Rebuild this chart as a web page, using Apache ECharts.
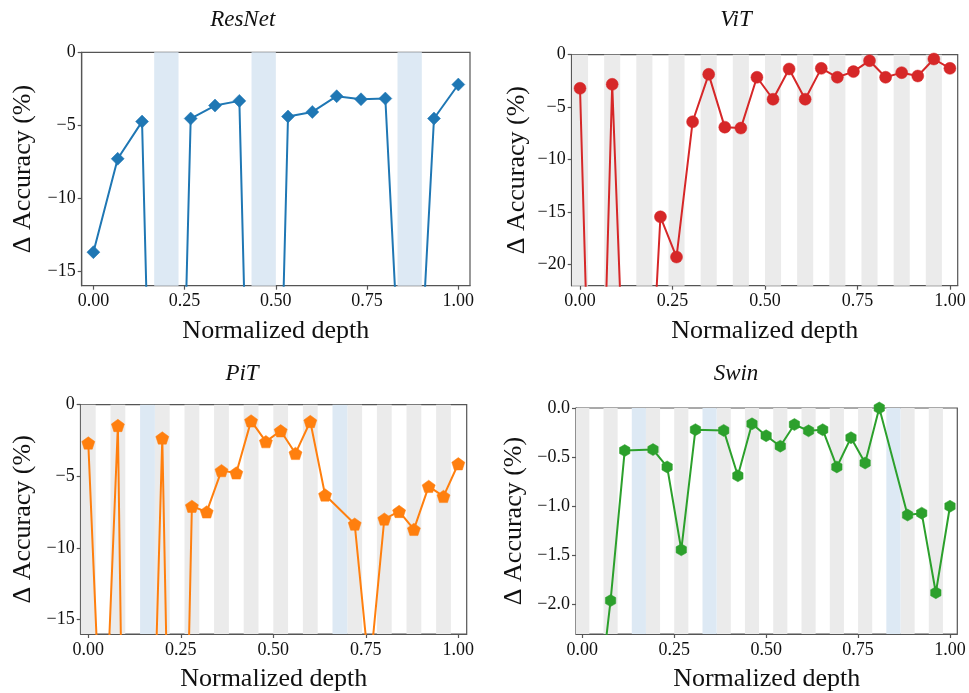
<!DOCTYPE html>
<html>
<head>
<meta charset="utf-8">
<script src="https://cdn.jsdelivr.net/npm/echarts@6/dist/echarts.min.js"></script>
<style>html,body{margin:0;padding:0;background:#fff}#c{width:969px;height:693px}</style>
</head>
<body>
<div id="c"></div>
<script>
// ---------------- data ----------------
const panelTitles = ['ResNet', 'ViT', 'PiT', 'Swin'];
const xTickValues = [0, 0.25, 0.5, 0.75, 1.0];
const yTicksInt16 = [0, -5, -10, -15];
const yTicksInt22 = [0, -5, -10, -15, -20];
const yTicksSwin = [0, -0.5, -1.0, -1.5, -2.0];

// Δ accuracy per layer (index along depth); null = layer not measured
const resnetValues = [-13.7, -7.3, -4.75, -70, -4.54, -3.65, -3.33, -70, -4.4, -4.09, -3.01, -3.22, -3.17, -36, -4.54, -2.21];
const resnetBlue = [3, 7, 13];
const resnetGray = [];

const vitValues = [-3.2, -57, -2.82, -43, -44, -15.44, -19.27, -6.39, -1.87, -6.9, -6.99, -2.15, -4.24, -1.36, -4.24, -1.30, -2.15, -1.61, -0.57, -2.15, -1.71, -2.03, -0.41, -1.30];
const vitBlue = [];
const vitGray = [0, 2, 4, 6, 8, 10, 12, 14, 16, 18, 20, 22];

const pitValues = [-2.67, -27, -1.45, -75, null, -2.32, -55, -7.09, -7.48, -4.6, -4.76, -1.13, -2.58, -1.82, -3.4, -1.17, -6.3, null, -8.33, -18.8, -7.98, -7.45, -8.7, -5.7, -6.4, -4.12];
const pitBlue = [4, 17];
const pitGray = [0, 2, 5, 7, 9, 11, 13, 15, 18, 20, 22, 24];

const swinValues = [-4.0, -3.2, -1.96, -0.433, null, -0.423, -0.60, -1.443, -0.221, null, -0.228, -0.69, -0.161, -0.282, -0.389, -0.168, -0.232, -0.221, -0.60, -0.302, -0.56, 0.0, null, -1.09, -1.07, -1.88, -1.0];
const swinBlue = [4, 9, 22];
const swinGray = [0, 2, 5, 7, 10, 12, 14, 16, 18, 20, 23, 25];

// ---------------- styling / layout ----------------
const FONT = '"Liberation Serif", "DejaVu Serif", serif';
const AXC = '#555';
const GRAY = '#ebebeb';
const BLUE = '#dde9f4';

const panels = [
  {title: panelTitles[0], values: resnetValues, gray: resnetGray, blue: resnetBlue, color: '#1f77b4',
   symbol: 'diamond', symbolSize: 13, yMin: -16, yTicks: yTicksInt16, dec: 0,
   grid: {left: 81.7, top: 52.3, width: 388.3, height: 233.4}, xMin: -0.032, xMax: 1.032,
   titlePos: [242.7, 20], yGap: 46},
  {title: panelTitles[1], values: vitValues, gray: vitGray, blue: vitBlue, color: '#d62728',
   symbol: 'circle', symbolSize: 12, yMin: -22, yTicks: yTicksInt22, dec: 0,
   grid: {left: 571.7, top: 54.7, width: 386, height: 231}, xMin: -0.0225, xMax: 1.021,
   titlePos: [736, 20], yGap: 42},
  {title: panelTitles[2], values: pitValues, gray: pitGray, blue: pitBlue, color: '#ff7f0e',
   symbol: 'path://M50,0 L97.55,34.55 L79.39,90.45 L20.61,90.45 L2.45,34.55 Z', symbolSize: 13, yMin: -16, yTicks: yTicksInt16, dec: 0,
   grid: {left: 80.7, top: 404.7, width: 386, height: 231}, xMin: -0.0205, xMax: 1.0227,
   titlePos: [242, 374], yGap: 45},
  {title: panelTitles[3], values: swinValues, gray: swinGray, blue: swinBlue, color: '#2ca02c',
   symbol: 'path://M50,0 L93.3,25 L93.3,75 L50,100 L6.7,75 L6.7,25 Z', symbolSize: 12, yMin: -2.3, yTicks: yTicksSwin, dec: 1,
   grid: {left: 576, top: 408, width: 381.3, height: 228.7}, xMin: -0.0171, xMax: 1.0199,
   titlePos: [736, 374], yGap: 49}
];

function fmt(d) { return v => (v < 0 ? '\u2212' : '') + Math.abs(v).toFixed(d); }
function bands(idx, n, lo, hi) {
  return idx.map(i => [{xAxis: Math.max(lo, (i - 0.5) / (n - 1))}, {xAxis: Math.min(hi, (i + 0.5) / (n - 1))}]);
}

const grids = [], xAxes = [], yAxes = [], series = [], graphics = [];
panels.forEach((p, k) => {
  const n = p.values.length;
  grids.push(Object.assign({show: true, borderColor: AXC, borderWidth: 1.2, backgroundColor: 'transparent'}, p.grid));
  xAxes.push({
    type: 'value', gridIndex: k, min: p.xMin, max: p.xMax, position: 'bottom',
    name: 'Normalized depth', nameLocation: 'middle', nameGap: 32,
    nameTextStyle: {fontFamily: FONT, fontSize: 26, color: '#111'},
    axisLine: {show: true, onZero: false, lineStyle: {color: AXC, width: 1.2}},
    axisTick: {show: true, inside: false, length: 4, lineStyle: {color: AXC, width: 1.2}, customValues: xTickValues},
    axisLabel: {fontFamily: FONT, fontSize: 18, color: '#111', margin: 7, customValues: xTickValues, formatter: v => v.toFixed(2)},
    splitLine: {show: false}
  });
  yAxes.push({
    type: 'value', gridIndex: k, min: p.yMin, max: 0, position: 'left',
    name: '\u0394 Accuracy (%)', nameLocation: 'middle', nameGap: p.yGap,
    nameTextStyle: {fontFamily: FONT, fontSize: 26, color: '#111'},
    axisLine: {show: true, onZero: false, lineStyle: {color: AXC, width: 1.2}},
    axisTick: {show: true, inside: false, length: 4, lineStyle: {color: AXC, width: 1.2}, customValues: p.yTicks},
    axisLabel: {fontFamily: FONT, fontSize: 18, color: '#111', margin: 6, customValues: p.yTicks, formatter: fmt(p.dec)},
    splitLine: {show: false}
  });
  series.push({
    type: 'line', xAxisIndex: k, yAxisIndex: k, data: [], z: 1, silent: true,
    markArea: {silent: true, itemStyle: {color: GRAY}, data: bands(p.gray, n, p.xMin, p.xMax)}
  });
  series.push({
    type: 'line', xAxisIndex: k, yAxisIndex: k, data: [], z: 1, silent: true,
    markArea: {silent: true, itemStyle: {color: BLUE}, data: bands(p.blue, n, p.xMin, p.xMax)}
  });
  series.push({
    type: 'line', xAxisIndex: k, yAxisIndex: k, z: 5,
    data: p.values.map((v, i) => [i / (n - 1), v]),
    connectNulls: true, clip: true, showAllSymbol: true,
    symbol: p.symbol, symbolSize: p.symbolSize, symbolKeepAspect: true,
    lineStyle: {color: p.color, width: 2},
    itemStyle: {color: p.color, borderColor: p.color, borderWidth: 0.5},
    animation: false
  });
  graphics.push({
    type: 'text', x: p.titlePos[0], y: p.titlePos[1],
    style: {text: p.title, fontFamily: FONT, fontStyle: 'italic', fontSize: 23, fill: '#111', textAlign: 'center', textVerticalAlign: 'middle'}
  });
});

const chart = echarts.init(document.getElementById('c'), null, {renderer: 'canvas'});
chart.setOption({
  animation: false,
  backgroundColor: '#fff',
  grid: grids, xAxis: xAxes, yAxis: yAxes, series: series, graphic: graphics
});
</script>
</body>
</html>
